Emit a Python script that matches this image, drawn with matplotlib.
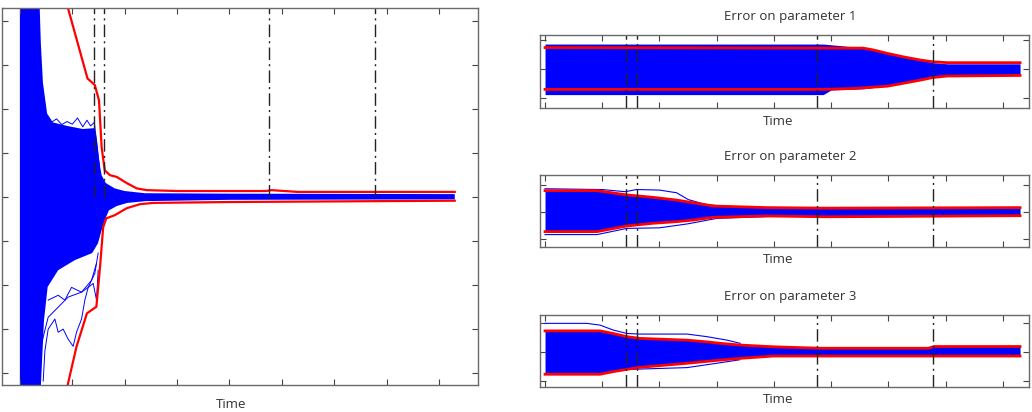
import numpy as np
import matplotlib
matplotlib.use('Agg')
import matplotlib.pyplot as plt

plt.rcParams['font.family'] = ['Open Sans', 'DejaVu Sans']

# time axis (arbitrary units), ticks every 100
time_ticks = [0, 100, 200, 300, 400, 500, 600, 700, 800]
event_times = [142, 160, 475, 678]

# ---- main plot: overall error ----
main_blue_up_t = [0, 36, 40, 44, 52, 63, 90, 120, 143, 147, 151, 156, 164, 181, 200, 239, 400, 830]
main_blue_up_v = [5.0, 5.0, 3.5, 2.6, 1.9, 1.7, 1.62, 1.55, 1.57, 1.3, 0.84, 0.5, 0.32, 0.2, 0.14, 0.09, 0.08, 0.07]
main_blue_lo_t = [0, 36, 40, 46, 53, 73, 105, 138, 149, 156, 162, 170, 185, 205, 240, 400, 830]
main_blue_lo_v = [-5.0, -5.0, -4.3, -2.8, -2.04, -1.66, -1.43, -1.27, -1.05, -0.75, -0.52, -0.3, -0.2, -0.13, -0.09, -0.06, -0.05]

main_red_up_t = [72, 92, 129, 143, 151, 156, 162, 172, 185, 204, 223, 242, 300, 470, 480, 530, 830]
main_red_up_v = [5.2, 4.29, 2.70, 2.55, 2.20, 1.14, 0.61, 0.50, 0.46, 0.32, 0.20, 0.16, 0.14, 0.14, 0.16, 0.12, 0.12]
main_red_lo_t = [80, 92, 108, 128, 146, 153, 159, 165, 181, 204, 229, 254, 400, 830]
main_red_lo_v = [-4.84, -4.23, -3.40, -2.64, -2.49, -1.58, -0.68, -0.48, -0.41, -0.25, -0.16, -0.13, -0.11, -0.08]

# a few stray trajectories visible outside the dense cloud
stray1_t = [44.5, 47.7, 54, 66.8, 73.1, 82.6, 92.2, 101.7, 108.1, 117.7, 124, 130.4, 139.9, 146.3, 149.4]
stray1_v = [-4.18, -3.5, -3.0, -2.77, -3.07, -3.0, -3.23, -3.39, -3.07, -2.77, -2.34, -2.05, -1.96, -2.34, -1.66]
stray2_t = [31.8, 34.9, 44.5, 54, 73.1, 92.2, 117.7, 130.4, 136.8, 143.1, 149.4]
stray2_v = [-4.18, -3.7, -3.18, -2.73, -2.5, -2.27, -2.16, -2.05, -1.89, -1.73, -1.27]
stray3_t = [54, 73.1, 85.9, 98.6, 117.7, 136.8, 146.3]
stray3_v = [-2.34, -2.23, -2.34, -2.05, -2.16, -1.89, -1.5]
stray4_t = [52, 60, 70, 80, 90, 100, 110, 120, 128, 135, 142, 148, 152]
stray4_v = [1.85, 1.7, 1.78, 1.65, 1.72, 1.66, 1.8, 1.6, 1.75, 1.62, 1.7, 1.1, 0.7]

# ---- parameter errors ----
p1_red_up_t = [0, 556, 573, 598, 626, 656, 678, 703, 830]
p1_red_up_v = [0.74, 0.72, 0.66, 0.54, 0.42, 0.31, 0.25, 0.22, 0.22]
p1_red_lo_t = [0, 481, 538, 598, 626, 656, 678, 703, 830]
p1_red_lo_v = [-0.70, -0.70, -0.67, -0.59, -0.49, -0.38, -0.29, -0.24, -0.22]
p1_blue_up_t = [0, 486, 520, 556, 598, 626, 656, 678, 703, 830]
p1_blue_up_v = [0.86, 0.86, 0.8, 0.72, 0.55, 0.43, 0.31, 0.22, 0.18, 0.18]
p1_blue_lo_t = [0, 486, 500, 556, 598, 626, 656, 678, 703, 830]
p1_blue_lo_v = [-0.88, -0.88, -0.72, -0.68, -0.58, -0.48, -0.37, -0.27, -0.2, -0.18]

p2_red_up_t = [0, 91, 143, 189, 230, 259, 294, 388, 493, 830]
p2_red_up_v = [0.78, 0.78, 0.62, 0.53, 0.43, 0.33, 0.21, 0.15, 0.13, 0.15]
p2_red_lo_t = [0, 91, 143, 189, 230, 259, 294, 388, 493, 830]
p2_red_lo_v = [-0.74, -0.74, -0.53, -0.43, -0.37, -0.31, -0.21, -0.16, -0.19, -0.15]
p2_out_up_t = [0, 100, 140, 160, 200, 230, 250, 280, 320]
p2_out_up_v = [0.85, 0.82, 0.74, 0.82, 0.8, 0.7, 0.45, 0.27, 0.18]
p2_out_lo_t = [0, 91, 143, 200, 250, 300, 390]
p2_out_lo_v = [-0.85, -0.85, -0.62, -0.6, -0.45, -0.25, -0.18]

p3_red_up_t = [0, 96, 119, 143, 166, 248, 283, 306, 341, 399, 481, 670, 680, 830]
p3_red_up_v = [0.72, 0.72, 0.63, 0.52, 0.46, 0.40, 0.34, 0.29, 0.23, 0.17, 0.12, 0.12, 0.18, 0.18]
p3_red_lo_t = [0, 96, 119, 143, 166, 248, 306, 341, 399, 481, 830]
p3_red_lo_v = [-0.78, -0.78, -0.69, -0.61, -0.54, -0.40, -0.29, -0.23, -0.15, -0.15, -0.15]
p3_out_up_t = [0, 73, 96, 119, 143, 166, 248, 283, 318, 341]
p3_out_up_v = [0.98, 0.98, 0.92, 0.75, 0.63, 0.61, 0.61, 0.52, 0.40, 0.29]
p3_out_lo_t = [140, 166, 248, 300, 340]
p3_out_lo_v = [-0.62, -0.6, -0.55, -0.4, -0.28]

BLUE = '#0000ff'
RED = '#ff0000'
SPINE = '#6a6a6a'
dashdot = (0, (9, 3, 1.5, 3))


def style_axes(ax, yticks):
    ax.set_xticks(time_ticks)
    ax.set_yticks(yticks)
    ax.tick_params(direction='in', length=4, width=0.8, color='#444444',
                   top=True, right=True, labelbottom=False, labelleft=False)
    for s in ax.spines.values():
        s.set_color(SPINE)
        s.set_linewidth(1.0)


def band(ax, up_t, up_v, lo_t, lo_v):
    # dense cloud of trajectories, drawn as the area between envelopes
    grid = np.union1d(up_t, lo_t)
    ax.fill_between(grid, np.interp(grid, up_t, up_v), np.interp(grid, lo_t, lo_v),
                    color=BLUE, lw=0)


fig = plt.figure(figsize=(10.32, 4.12), dpi=100)

# main axes
ax = fig.add_axes([0.002, 0.0655, 0.461, 0.915])
band(ax, main_blue_up_t, main_blue_up_v, main_blue_lo_t, main_blue_lo_v)
for tt, vv in [(stray1_t, stray1_v), (stray2_t, stray2_v), (stray3_t, stray3_v), (stray4_t, stray4_v)]:
    ax.plot(tt, vv, color=BLUE, lw=0.7)
ax.plot(main_red_up_t, main_red_up_v, color=RED, lw=1.6)
ax.plot(main_red_lo_t, main_red_lo_v, color=RED, lw=1.6)
for x in event_times:
    ax.plot([x, x], [0, 4.4], color='#222222', lw=1.0, ls=dashdot)
ax.set_xlim(-34, 874)
ax.set_ylim(-4.27, 4.3)
style_axes(ax, [-4, -3, -2, -1, 0, 1, 2, 3, 4])
ax.set_xlabel('Time', fontsize=9.5, color='#333333')
ax.xaxis.set_label_coords(0.481, -0.034)

# parameter panels
panels = [
    ([0.5233, 0.7379, 0.474, 0.177], (-1.34, 1.17), 'Error on parameter 1',
     p1_blue_up_t, p1_blue_up_v, p1_blue_lo_t, p1_blue_lo_v,
     p1_red_up_t, p1_red_up_v, p1_red_lo_t, p1_red_lo_v, None, None),
    ([0.5233, 0.4005, 0.474, 0.1748], (-1.31, 1.36), 'Error on parameter 2',
     p2_red_up_t, p2_red_up_v, p2_red_lo_t, p2_red_lo_v,
     p2_red_up_t, p2_red_up_v, p2_red_lo_t, p2_red_lo_v,
     (p2_out_up_t, p2_out_up_v), (p2_out_lo_t, p2_out_lo_v)),
    ([0.5233, 0.0607, 0.474, 0.1748], (-1.22, 1.27), 'Error on parameter 3',
     p3_red_up_t, p3_red_up_v, p3_red_lo_t, p3_red_lo_v,
     p3_red_up_t, p3_red_up_v, p3_red_lo_t, p3_red_lo_v,
     (p3_out_up_t, p3_out_up_v), (p3_out_lo_t, p3_out_lo_v)),
]

for rect, ylim, title, but, buv, blt, blv, rut, ruv, rlt, rlv, out_up, out_lo in panels:
    a = fig.add_axes(rect)
    band(a, but, buv, blt, blv)
    for out in (out_up, out_lo):
        if out is not None:
            a.plot(out[0], out[1], color=BLUE, lw=0.8)
    a.plot(rut, ruv, color=RED, lw=2.0)
    a.plot(rlt, rlv, color=RED, lw=2.0)
    for x in event_times:
        a.axvline(x, color='#222222', lw=1.0, ls=dashdot)
    a.set_xlim(-8.7, 846)
    a.set_ylim(*ylim)
    style_axes(a, [-1, 0, 1])
    a.text(0.511, 1.25, title, transform=a.transAxes, ha='center', va='center',
           fontsize=9.5, color='#333333')
    a.set_xlabel('Time', fontsize=9.5, color='#333333')
    a.xaxis.set_label_coords(0.487, -0.09)

fig.savefig('out.png', dpi=100)
